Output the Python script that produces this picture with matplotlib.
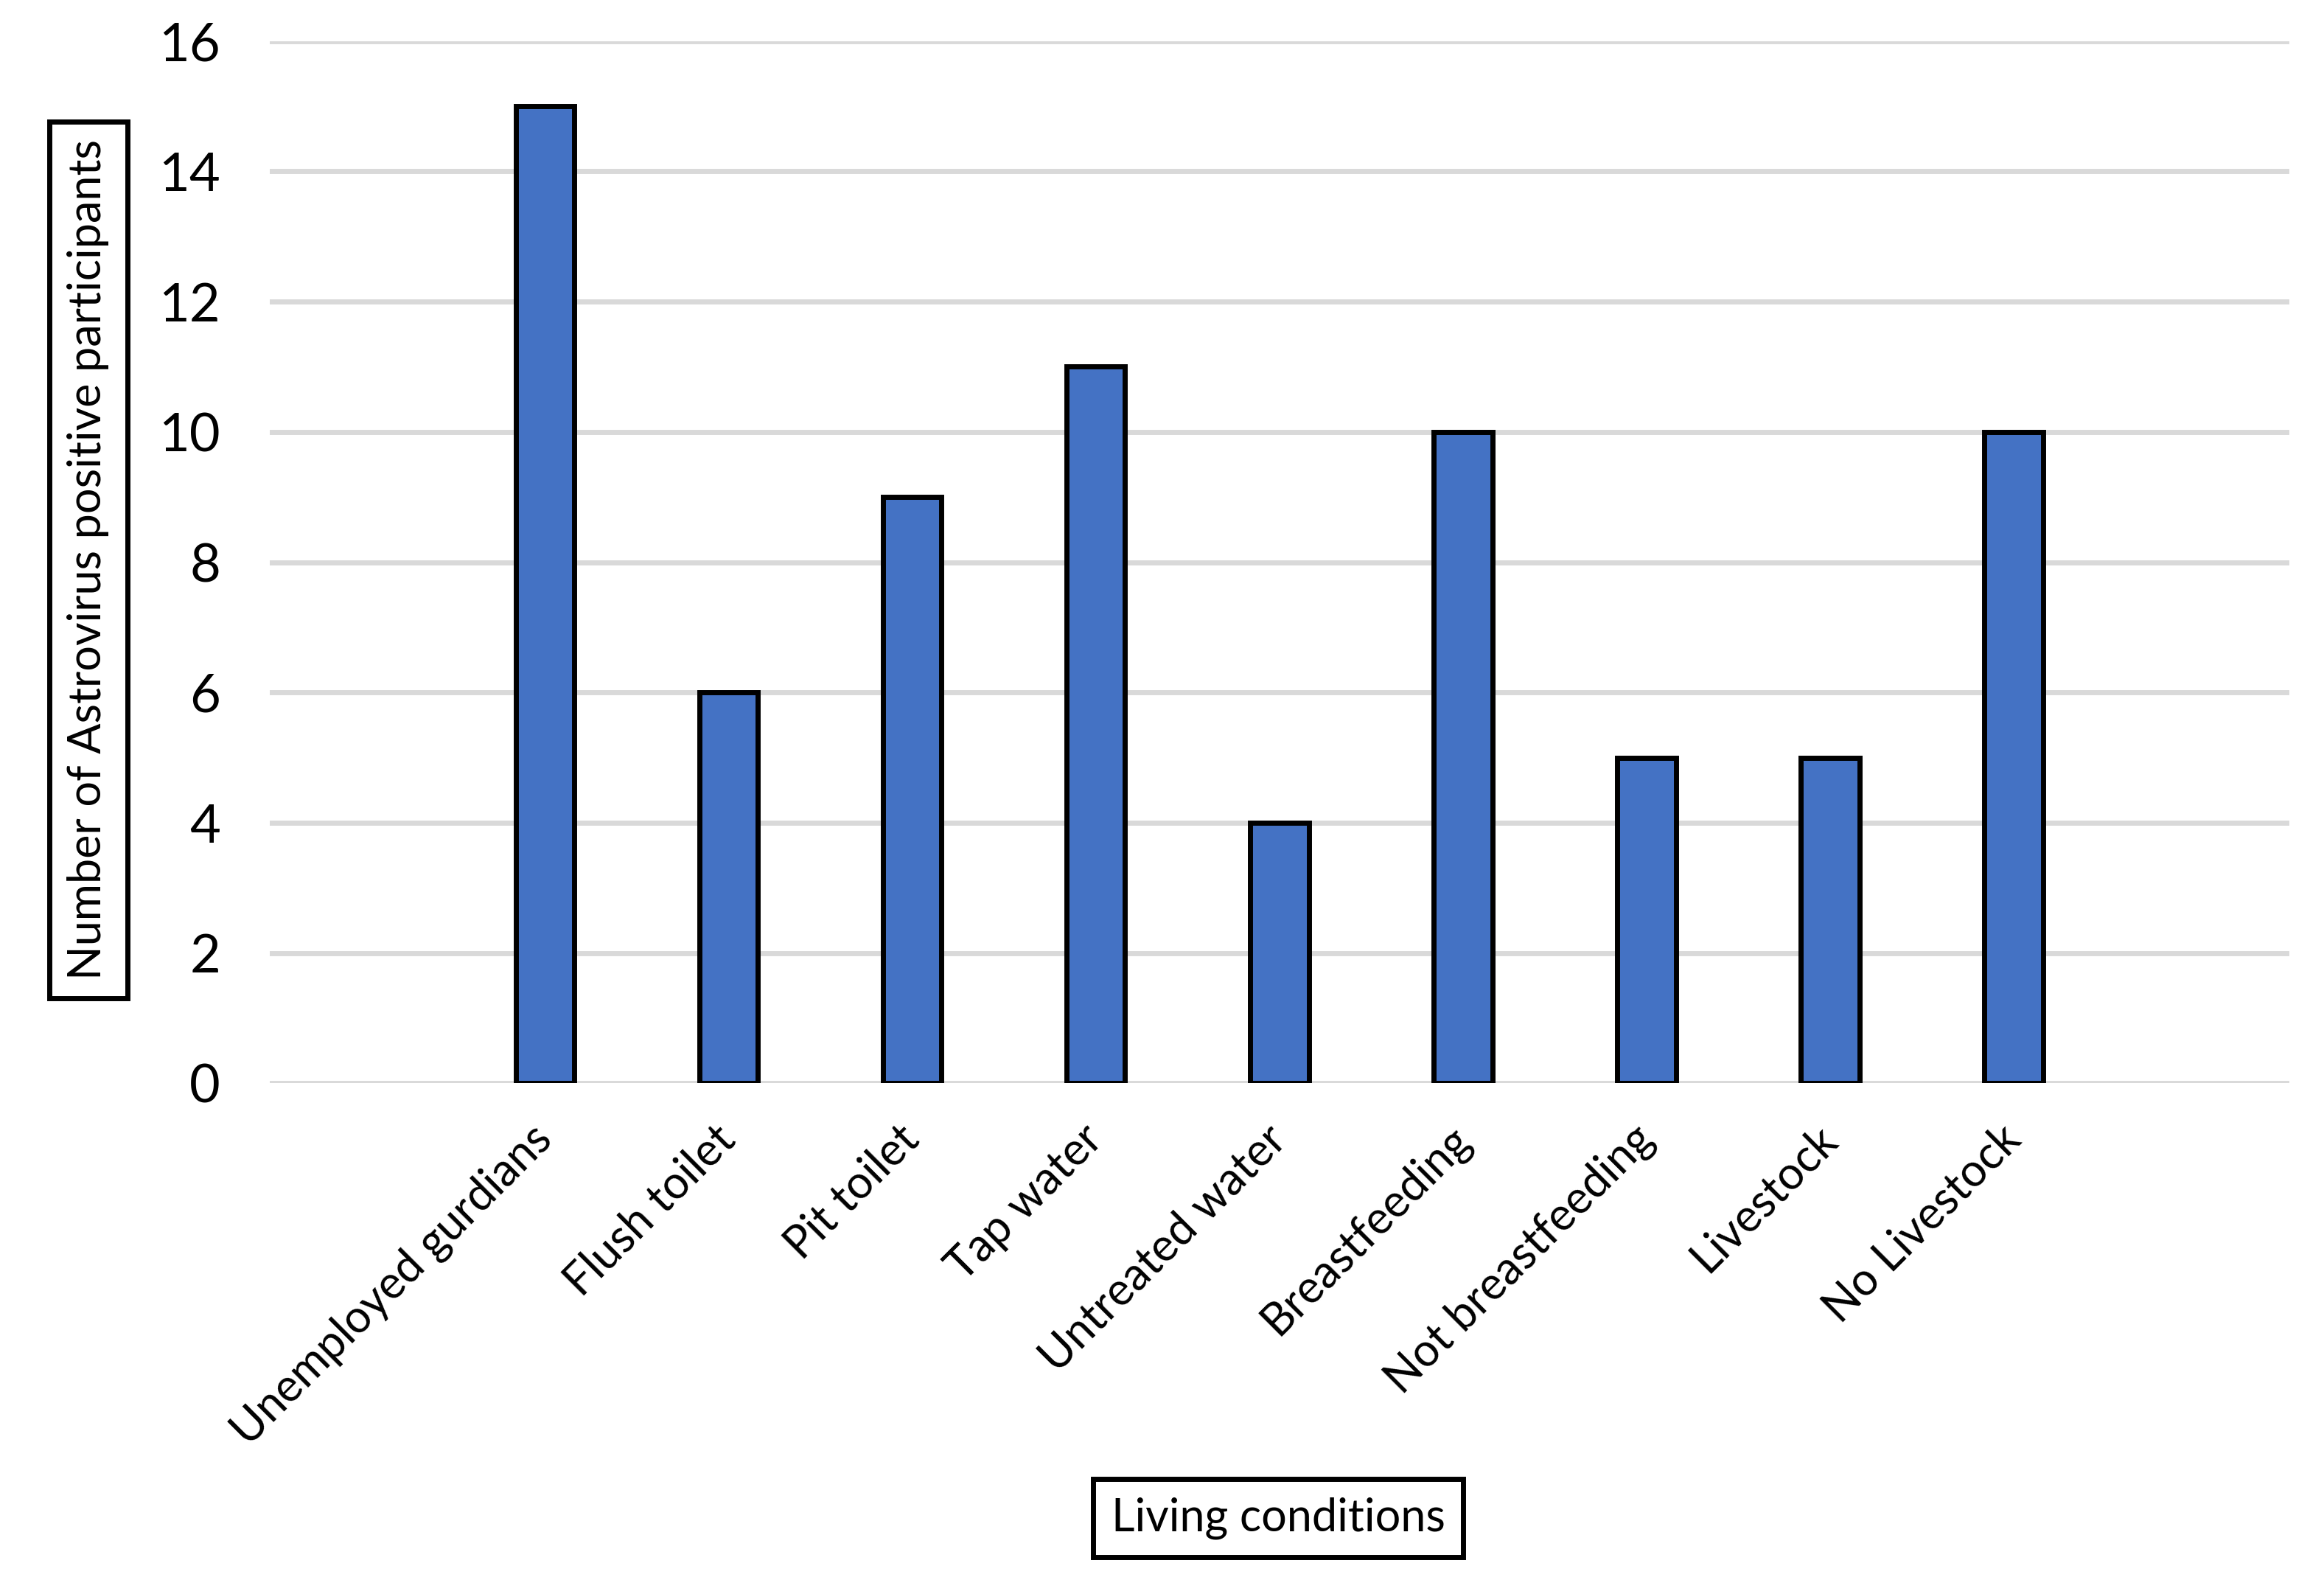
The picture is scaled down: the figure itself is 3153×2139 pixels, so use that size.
import matplotlib.pyplot as plt
import numpy as np

plt.rcParams['font.family'] = ['Lato', 'DejaVu Sans']

# categorias (con huecos vacios al principio y al final, como en el original)
categories = ['', 'Unemployed gurdians', 'Flush toilet', 'Pit toilet', 'Tap water',
              'Untreated water', 'Breastfeeding', 'Not breastfeeding', 'Livestock',
              'No Livestock', '']
counts = [0, 15, 6, 9, 11, 4, 10, 5, 5, 10, 0]
yticks = [0, 2, 4, 6, 8, 10, 12, 14, 16]

fig = plt.figure(figsize=(15.765, 10.695), dpi=200)
ax = fig.add_axes([0.116, 0.313, 0.869, 0.661])

x = np.arange(len(categories))
mask = np.array([c != '' for c in categories])
ax.bar(x[mask], np.array(counts)[mask], width=0.32, color='#4472C4',
       edgecolor='black', linewidth=2.5, zorder=3)

ax.set_xlim(-0.5, len(categories) - 0.5)
ax.set_ylim(0, 16)
ax.set_yticks(yticks)
ax.set_xticks(x)
ax.set_xticklabels(categories, rotation=45, ha='right', rotation_mode='anchor',
                   va='center', fontsize=22)
ax.tick_params(axis='x', length=0, pad=24)
ax.tick_params(axis='y', length=0, pad=24, labelsize=26)

ax.grid(axis='y', color='#D9D9D9', linewidth=2.5, zorder=0)
ax.set_axisbelow(True)
for s in ax.spines.values():
    s.set_visible(False)

box = dict(boxstyle='square,pad=0.4', facecolor='white', edgecolor='black', linewidth=2.5)
fig.text(0.038, 0.645, 'Number of Astrovirus positive participants', rotation=90,
         ha='center', va='center', fontsize=22, bbox=box)
fig.text(0.550, 0.0373, 'Living conditions', ha='center', va='center',
         fontsize=22, bbox=box)

fig.savefig('out.png', dpi=200)
